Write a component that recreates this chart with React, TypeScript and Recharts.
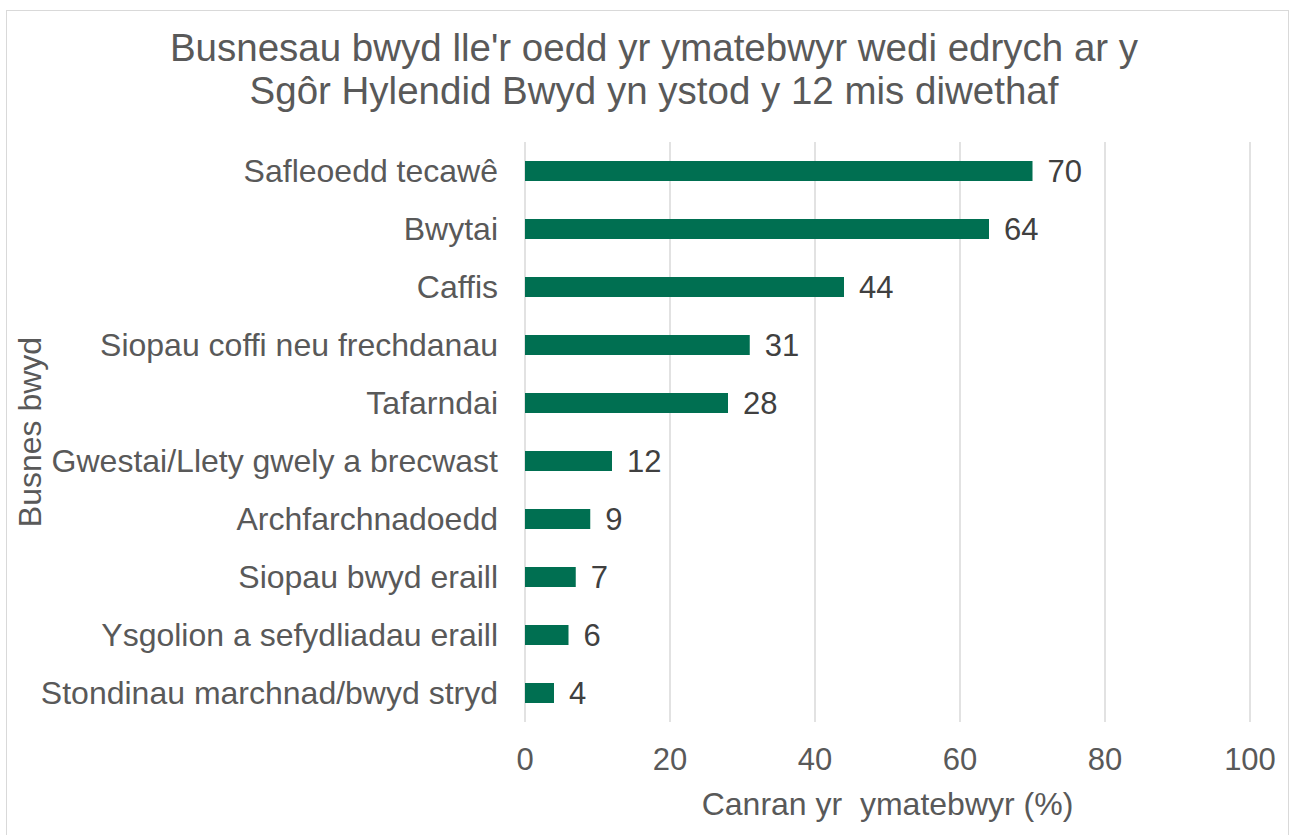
import React from "react";
import {
  BarChart,
  Bar,
  XAxis,
  YAxis,
  CartesianGrid,
  LabelList,
} from "recharts";

const businesses = [
  "Safleoedd tecawê",
  "Bwytai",
  "Caffis",
  "Siopau coffi neu frechdanau",
  "Tafarndai",
  "Gwestai/Llety gwely a brecwast",
  "Archfarchnadoedd",
  "Siopau bwyd eraill",
  "Ysgolion a sefydliadau eraill",
  "Stondinau marchnad/bwyd stryd",
];
const percents = [70, 64, 44, 31, 28, 12, 9, 7, 6, 4];
const xTicks = [0, 20, 40, 60, 80, 100];

const titleLines = [
  "Busnesau bwyd lle'r oedd yr ymatebwyr wedi edrych ar y",
  "Sgôr Hylendid Bwyd yn ystod y 12 mis diwethaf",
];

const data = businesses.map((name, i) => ({ name, value: percents[i] }));

const font = "'Liberation Sans', Arial, sans-serif";

export default function App() {
  return (
    <div
      style={{
        position: "absolute",
        left: 6,
        top: 10,
        width: 1281,
        height: 838,
        border: "1px solid #d9d9d9",
        background: "#fff",
        fontFamily: font,
      }}
    >
      <div
        style={{
          position: "absolute",
          left: 0,
          top: 15,
          width: 1294,
          textAlign: "center",
          fontSize: 38.5,
          lineHeight: "43px",
          color: "#595959",
          whiteSpace: "nowrap",
        }}
      >
        {titleLines.map((t) => (
          <div key={t}>{t}</div>
        ))}
      </div>
      <BarChart
        width={1281}
        height={838}
        data={data}
        layout="vertical"
        margin={{ top: 131, right: 38, left: 0, bottom: 27 }}
        style={{ fontFamily: font }}
      >
        <CartesianGrid horizontal={false} stroke="#d9d9d9" strokeWidth={1.5} />
        <XAxis
          type="number"
          domain={[0, 100]}
          ticks={xTicks}
          axisLine={false}
          tickLine={false}
          tickSize={0}
          tickMargin={26}
          height={100}
          tick={{ fill: "#595959", fontSize: 31 }}
          label={{
            value: "Canran yr\u00a0 ymatebwyr (%)",
            position: "insideBottom",
            offset: 7,
            fill: "#595959",
            fontSize: 32,
          }}
        />
        <YAxis
          type="category"
          dataKey="name"
          width={518}
          axisLine={false}
          tickLine={false}
          tickSize={0}
          tickMargin={27}
          interval={0}
          tick={{ fill: "#595959", fontSize: 32 }}
          label={{
            value: "Busnes bwyd",
            angle: -90,
            position: "insideLeft",
            offset: 23,
            fill: "#595959",
            fontSize: 32,
            style: { textAnchor: "middle" },
          }}
        />
        <Bar dataKey="value" fill="#006F51" barSize={20} isAnimationActive={false}>
          <LabelList
            dataKey="value"
            position="right"
            offset={15}
            fill="#404040"
            fontSize={31}
          />
        </Bar>
      </BarChart>
    </div>
  );
}
